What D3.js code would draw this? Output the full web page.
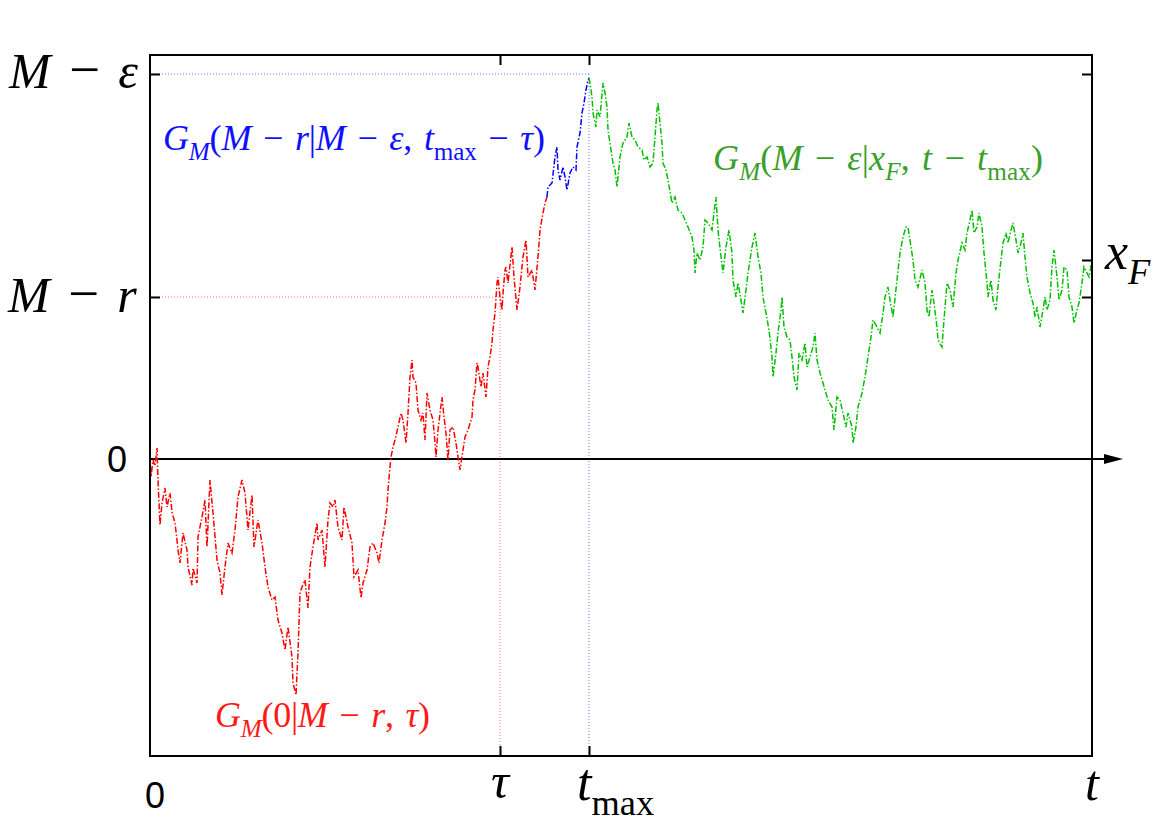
<!DOCTYPE html>
<html>
<head>
<meta charset="utf-8">
<script src="https://cdn.jsdelivr.net/npm/d3@7"></script>
<style>
  html, body { margin: 0; padding: 0; background: #ffffff; }
  svg { display: block; }
</style>
</head>
<body>
<svg id="chart" width="1170" height="827"></svg>
<script>
// ---- Data (time in walk steps, position in lattice units) ----
const T_END = 942;
const TAU = 350;
const T_MAX = 439;
const LEVEL_M_EPS = 385;
const LEVEL_M_R = 162;
const LEVEL_XF = 199;
const V_MIN = -297, V_MAX = 404;

const redPath = [[0,0],[1,-18],[3,-1],[5,-7],[7,11],[8,-21],[10,-66],[12,-44],[15,-29],[17,-48],[20,-34],[22,-53],[25,-64],[27,-81],[28,-91],[30,-104],[33,-74],[37,-91],[38,-108],[42,-126],[43,-109],[47,-124],[48,-78],[52,-58],[55,-41],[57,-88],[60,-21],[63,-54],[67,-101],[70,-114],[72,-136],[75,-108],[78,-84],[82,-94],[85,-71],[88,-38],[92,-21],[95,-34],[98,-71],[102,-36],[104,-88],[108,-61],[112,-84],[115,-108],[118,-128],[122,-141],[125,-138],[128,-161],[132,-174],[135,-191],[138,-168],[142,-198],[143,-224],[146,-236],[148,-194],[150,-134],[152,-128],[155,-121],[158,-149],[160,-108],[163,-88],[167,-64],[168,-81],[172,-71],[175,-108],[178,-61],[180,-44],[183,-48],[185,-41],[188,-68],[192,-81],[194,-48],[198,-68],[202,-84],[204,-118],[208,-111],[211,-139],[213,-124],[217,-111],[220,-88],[223,-84],[227,-94],[229,-104],[232,-81],[235,-64],[237,-48],[238,-31],[240,-8],[241,2],[243,12],[245,19],[248,32],[251,46],[253,39],[256,16],[258,46],[260,82],[262,99],[263,82],[266,76],[268,49],[271,39],[273,46],[275,19],[277,66],[280,49],[283,39],[285,16],[286,2],[288,29],[292,62],[294,42],[296,26],[298,-1],[300,29],[303,32],[306,16],[308,2],[310,-11],[313,9],[315,22],[318,29],[322,42],[323,59],[325,69],[327,96],[328,92],[331,72],[333,86],[336,62],[338,92],[340,102],[342,116],[343,129],[345,146],[347,176],[348,182],[350,162],[352,149],[353,166],[355,189],[356,192],[358,176],[362,212],[364,182],[367,149],[370,172],[373,202],[376,219],[378,182],[382,189],[385,169],[388,202],[390,229],[393,246],[395,256],[397,262]];

const bluePath = [[397,262],[398,272],[402,276],[405,302],[407,312],[408,289],[410,279],[413,292],[415,282],[417,269],[420,286],[423,292],[426,289],[427,312],[430,326],[432,346],[434,356],[436,369],[438,379],[439,381]];

const greenPath = [[439,381],[440,376],[442,362],[443,346],[446,332],[447,349],[450,342],[453,376],[455,366],[457,352],[458,329],[461,309],[463,296],[465,289],[467,272],[470,302],[473,316],[477,322],[479,336],[482,322],[485,319],[488,312],[492,309],[494,299],[497,302],[500,292],[503,296],[505,322],[507,349],[508,356],[510,336],[512,316],[513,296],[516,289],[518,279],[522,256],[525,262],[528,249],[532,246],[535,239],[538,232],[542,222],[544,209],[545,186],[547,206],[550,199],[553,212],[555,239],[558,236],[562,229],[564,246],[566,262],[568,229],[571,202],[573,186],[576,212],[579,229],[582,206],[583,179],[586,162],[588,176],[591,159],[593,146],[596,169],[598,186],[602,212],[605,226],[608,202],[611,186],[613,162],[616,146],[619,129],[622,102],[623,82],[626,106],[628,126],[631,149],[632,162],[634,132],[637,122],[640,119],[642,102],[644,82],[647,69],[649,106],[652,99],[655,116],[657,92],[660,102],[663,112],[665,126],[667,99],[670,86],[673,76],[675,69],[678,59],[682,52],[684,29],[687,62],[690,59],[693,46],[696,32],[698,46],[702,32],[703,16],[706,32],[708,52],[712,66],[715,82],[718,102],[721,122],[723,139],[727,132],[730,126],[733,146],[735,162],[738,172],[740,159],[743,142],[747,179],[750,206],[753,222],[756,232],[758,232],[761,212],[763,199],[765,179],[768,172],[772,189],[775,176],[777,149],[779,142],[782,169],[784,156],[787,132],[788,119],[792,112],[794,139],[797,176],[800,169],[803,152],[806,186],[808,199],[812,216],[815,209],[817,226],[820,239],[822,249],[824,226],[827,232],[829,246],[832,232],[834,206],[837,176],[838,162],[841,179],[843,159],[846,149],[848,172],[851,199],[853,216],[856,226],[858,216],[861,229],[863,236],[866,219],[868,206],[871,216],[873,226],[875,202],[877,182],[880,166],[883,156],[885,142],[887,152],[890,132],[893,149],[895,162],[897,149],[900,159],[902,192],[904,209],[907,182],[909,159],[912,169],[914,192],[917,189],[919,162],[922,152],[924,136],[927,149],[929,156],[932,176],[934,192],[937,186],[939,182],[942,199]];

const timeTicks = [TAU, T_MAX];
const levelTicksLeft = [LEVEL_M_R, LEVEL_M_EPS];
const levelTicksRight = [LEVEL_M_R, LEVEL_XF, LEVEL_M_EPS];

// ---- Layout ----
const svg = d3.select("#chart");
const plotL = 150, plotR = 1092, plotT = 55, plotB = 756;
const x = d3.scaleLinear().domain([0, T_END]).range([plotL, plotR]);
const y = d3.scaleLinear().domain([V_MIN, V_MAX]).range([plotB, plotT]);

const SERIF = "'Liberation Serif', 'DejaVu Serif', serif";
const SANS = "'Liberation Sans', Arial, sans-serif";

// guide lines
const guides = svg.append("g").attr("fill", "none").attr("stroke-width", 1).attr("stroke-dasharray", "1,2");
guides.append("line").attr("x1", x(0)).attr("x2", x(T_MAX)).attr("y1", y(LEVEL_M_EPS)).attr("y2", y(LEVEL_M_EPS)).attr("stroke", "#7070ff");
guides.append("line").attr("x1", x(T_MAX)).attr("x2", x(T_MAX)).attr("y1", y(LEVEL_M_EPS)).attr("y2", y(V_MIN)).attr("stroke", "#7070ff");
guides.append("line").attr("x1", x(0)).attr("x2", x(TAU)).attr("y1", y(LEVEL_M_R)).attr("y2", y(LEVEL_M_R)).attr("stroke", "#ff7070");
guides.append("line").attr("x1", x(TAU)).attr("x2", x(TAU)).attr("y1", y(LEVEL_M_R)).attr("y2", y(V_MIN)).attr("stroke", "#ff7070");

// zero axis with arrow
svg.append("line").attr("x1", x(0)).attr("x2", 1106).attr("y1", y(0)).attr("y2", y(0))
  .attr("stroke", "#000").attr("stroke-width", 2);
svg.append("path").attr("d", `M1104,${y(0)-5} L1123,${y(0)} L1104,${y(0)+5} Z`).attr("fill", "#000");

// paths
const line = d3.line().x(d => x(d[0])).y(d => y(d[1]));
const series = [
  {data: redPath, color: "#ff0000"},
  {data: bluePath, color: "#0000ff"},
  {data: greenPath, color: "#00c000"}
];
svg.append("g").selectAll("path").data(series).join("path")
  .attr("d", d => line(d.data))
  .attr("fill", "none")
  .attr("stroke", d => d.color)
  .attr("stroke-width", 1.5)
  .attr("stroke-dasharray", "6,2,1.5,2");

// frame
svg.append("rect").attr("x", plotL).attr("y", plotT).attr("width", plotR - plotL).attr("height", plotB - plotT)
  .attr("fill", "none").attr("stroke", "#000").attr("stroke-width", 2);

// ticks (inward)
function styleAxis(g) {
  g.select(".domain").remove();
  g.selectAll(".tick line").attr("stroke", "#000").attr("stroke-width", 2);
  g.selectAll(".tick text").remove();
}
svg.append("g").attr("transform", `translate(0,${plotB})`)
  .call(d3.axisBottom(x).tickValues(timeTicks).tickSizeInner(-10).tickSizeOuter(0).tickFormat("")).call(styleAxis);
svg.append("g").attr("transform", `translate(0,${plotT})`)
  .call(d3.axisTop(x).tickValues(timeTicks).tickSizeInner(-10).tickSizeOuter(0).tickFormat("")).call(styleAxis);
svg.append("g").attr("transform", `translate(${plotL},0)`)
  .call(d3.axisLeft(y).tickValues(levelTicksLeft).tickSizeInner(-10).tickSizeOuter(0).tickFormat("")).call(styleAxis);
svg.append("g").attr("transform", `translate(${plotR},0)`)
  .call(d3.axisRight(y).tickValues(levelTicksRight).tickSizeInner(-10).tickSizeOuter(0).tickFormat("")).call(styleAxis);

// math text helper
const SP = "\u2004";
function mathText(xPos, yPos, parts, size, color, width, anchor) {
  const t = svg.append("text").attr("x", xPos).attr("y", yPos)
    .attr("font-family", SERIF).attr("font-size", size).attr("fill", color)
    .attr("text-anchor", anchor || "start");
  let inSub = false;
  const shift = size * 0.28;
  parts.forEach(p => {
    const s = t.append("tspan").text(p.t);
    if (p.i) s.attr("font-style", "italic");
    if (p.big) s.attr("font-size", size * p.big);
    if (p.sub) {
      s.attr("font-size", size * 0.7);
      if (!inSub) { s.attr("dy", shift); inSub = true; }
    } else if (inSub) {
      s.attr("dy", -shift); inSub = false;
    }
  });
  if (width) t.attr("textLength", width).attr("lengthAdjust", "spacing");
  return t;
}
const I = s => ({t: s, i: true});
const R = s => ({t: s});
const Si = s => ({t: s, i: true, sub: true});
const Sr = s => ({t: s, sub: true});
const MINUS = SP + "\u2212" + SP;

// annotation labels
mathText(163, 150, [I("G"), Si("M"), R("("), I("M"), R(MINUS), I("r"), R("|"), I("M"), R(MINUS), I("ε"), R("," + SP), I("t"), Sr("max"), R(MINUS), I("τ"), R(")")], 36, "#1010ff", 382);
mathText(713, 170, [I("G"), Si("M"), R("("), I("M"), R(MINUS), I("ε"), R("|"), I("x"), Si("F"), R("," + SP), I("t"), R(MINUS), I("t"), Sr("max"), R(")")], 36, "#3aa02a", 330);
mathText(215, 727, [I("G"), Si("M"), R("(0|"), I("M"), R(MINUS), I("r"), R("," + SP), I("τ"), R(")")], 36, "#ff1a1a", 215);

// left level labels
mathText(9, y(LEVEL_M_EPS) + 14, [I("M"), {t: MINUS, big: 1.1}, I("ε")], 50, "#000");
mathText(8, y(LEVEL_M_R) + 15, [I("M"), {t: MINUS, big: 1.1}, I("r")], 50, "#000");
svg.append("text").attr("x", 117).attr("y", y(0) + 13).attr("text-anchor", "middle")
  .attr("font-family", SANS).attr("font-size", 36).attr("fill", "#000").text("0");
// right label x_F
mathText(1105, y(LEVEL_XF) + 9, [I("x"), Si("F")], 52, "#000");

// bottom time labels
svg.append("text").attr("x", x(0) + 5).attr("y", 808).attr("text-anchor", "middle")
  .attr("font-family", SANS).attr("font-size", 36).attr("fill", "#000").text("0");
mathText(x(TAU), 798, [I("τ")], 50, "#000", null, "middle");
mathText(577, 800, [I("t"), Sr("max")], 52, "#000");
mathText(x(T_END), 800, [I("t")], 50, "#000", null, "middle");
</script>
</body>
</html>
